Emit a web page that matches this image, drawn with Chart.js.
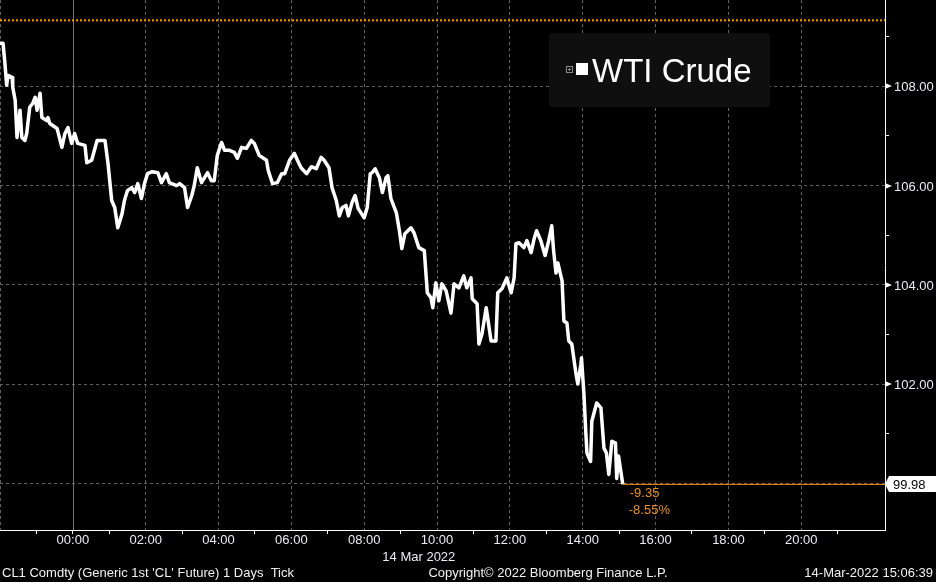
<!DOCTYPE html>
<html>
<head>
<meta charset="utf-8">
<script src="https://cdn.jsdelivr.net/npm/chart.js@4/dist/chart.umd.min.js"></script>
<style>
  html, body { margin: 0; padding: 0; background: #000; }
  #wrap { width: 936px; height: 582px; position: relative; }
</style>
</head>
<body>
<div id="wrap"><canvas id="crude"></canvas></div>
<script>
// CL1 ticks, 14-Mar-2022 session (22:xx / 23:xx belong to the evening before)
const times = [
  '22:00','22:05','22:08','22:11','22:13','22:20','22:21','22:25','22:28','22:33','22:36','22:41','22:44','22:49','22:54','22:58',
  '23:01','23:06','23:09','23:17','23:19','23:22','23:34','23:42','23:47','23:52','23:58',
  '00:03','00:08','00:20','00:23','00:31','00:40','00:44','00:53','00:58','01:04','01:09','01:14','01:21','01:25','01:30','01:37','01:42','01:47','01:53','01:58',
  '02:03','02:11','02:20','02:26','02:34','02:39','02:51','02:56','03:04','03:09','03:16','03:20','03:25','03:32','03:37','03:42','03:48','03:53','03:58',
  '04:05','04:10','04:18','04:26','04:31','04:38','04:46','04:54','04:59','05:07','05:19','05:22','05:29','05:37','05:44','05:49','05:57',
  '06:05','06:10','06:16','06:25','06:33','06:41','06:49','06:54','07:02','07:07','07:14','07:19','07:24','07:30','07:34','07:40','07:45','07:50',
  '08:00','08:05','08:10','08:13','08:18','08:25','08:30','08:36','08:39','08:44','08:53','08:58','09:02','09:07','09:17','09:22','09:30','09:39','09:44','09:50','09:53','09:58',
  '10:03','10:08','10:15','10:23','10:28','10:36','10:44','10:49','10:56','10:58','11:06','11:09','11:14','11:21','11:29','11:37','11:40','11:47','11:55',
  '12:02','12:07','12:10','12:15','12:23','12:28','12:35','12:40','12:44','12:51','12:58','13:04','13:09','13:12','13:16','13:19','13:26','13:29','13:34','13:37','13:42','13:49','13:52','13:57','13:58',
  '14:02','14:05','14:07','14:13','14:15','14:23','14:30','14:35','14:39','14:43','14:48','14:54','14:56','14:59','15:06'
];
const prices = [
  108.87,108.87,108.48,108.02,108.22,108.18,107.98,107.72,106.97,107.52,106.97,106.91,107.05,107.58,107.66,107.78,
  107.52,107.86,107.37,107.31,107.37,107.25,107.15,106.77,107.05,107.17,106.85,
  107.05,106.85,106.81,106.46,106.51,106.91,106.91,106.91,106.44,105.70,105.56,105.15,105.43,105.70,105.90,105.96,105.86,106.04,105.74,106.04,
  106.24,106.28,106.26,106.06,106.24,106.06,106.00,106.04,105.96,105.56,105.80,106.00,106.36,106.06,106.16,106.26,106.10,106.10,106.61,
  106.87,106.71,106.71,106.67,106.55,106.77,106.75,106.91,106.85,106.61,106.51,106.30,106.04,106.06,106.24,106.24,106.51,
  106.65,106.51,106.36,106.24,106.38,106.34,106.57,106.51,106.36,105.96,105.70,105.39,105.56,105.60,105.39,105.66,105.80,105.54,
  105.35,105.56,106.24,106.26,106.34,106.16,105.86,106.16,106.20,105.74,105.45,105.09,104.73,105.03,105.15,105.05,104.75,104.69,103.84,103.74,103.54,104.04,
  103.68,104.02,103.88,103.43,104.02,103.94,104.18,103.94,104.14,103.72,103.62,102.81,103.01,103.54,102.87,102.87,103.84,103.92,104.14,
  103.84,104.14,104.83,104.85,104.75,104.89,104.65,104.93,105.09,104.89,104.59,104.89,105.19,104.69,104.24,104.44,104.08,103.27,103.23,102.87,102.81,102.20,102.00,102.40,102.53,
  101.80,101.05,100.61,100.44,101.25,101.62,101.52,100.71,100.61,100.18,100.85,100.81,100.10,100.55,99.98
];
const prevClose = 109.33;
const lastPrice = 99.98;
const netChange = '-9.35';
const pctChange = '-8.55%';
const xTickHours = [0, 2, 4, 6, 8, 10, 12, 14, 16, 18, 20];
const yTickValues = [102, 104, 106, 108];

const FONT = '"Liberation Sans", Arial, sans-serif';
const ORANGE = '#ff9900';
const GRID = '#606060';

// hours relative to 00:00 on 14 Mar
function toHours(t) {
  const [h, m] = t.split(':').map(Number);
  const v = h + m / 60;
  return h >= 21 ? v - 24 : v;
}

const xMin = -2, xMax = 22.3;
const lastX = toHours(times[times.length - 1]);
const series = times.map((t, i) => ({ x: toHours(t), y: prices[i] }));

const overlay = {
  id: 'overlay',
  beforeDatasetsDraw(chart) {
    // solid day separator at midnight
    const { ctx, chartArea: a, scales: { x } } = chart;
    const px = Math.round(x.getPixelForValue(0)) + 0.5;
    ctx.save();
    ctx.strokeStyle = '#707070';
    ctx.lineWidth = 1;
    ctx.beginPath();
    ctx.moveTo(px, a.top);
    ctx.lineTo(px, a.bottom);
    ctx.stroke();
    ctx.restore();
  },
  afterDraw(chart) {
    const { ctx, chartArea: a, scales: { x, y } } = chart;
    ctx.save();
    ctx.textBaseline = 'middle';
    ctx.font = '13px ' + FONT;

    // right axis labels with little pointers
    yTickValues.forEach(v => {
      const py = Math.round(y.getPixelForValue(v));
      ctx.fillStyle = '#ffffff';
      ctx.beginPath();
      ctx.moveTo(a.right, py - 3);
      ctx.lineTo(a.right + 7, py);
      ctx.lineTo(a.right, py + 3);
      ctx.fill();
      ctx.fillStyle = '#ececf4';
      ctx.fillText(v.toFixed(2), a.right + 9, py + 1);
    });

    // last price tag
    const ly = Math.round(y.getPixelForValue(lastPrice));
    ctx.fillStyle = '#ffffff';
    ctx.beginPath();
    ctx.moveTo(a.right, ly);
    ctx.lineTo(a.right + 4, ly - 8);
    ctx.lineTo(chart.width, ly - 8);
    ctx.lineTo(chart.width, ly + 8);
    ctx.lineTo(a.right + 4, ly + 8);
    ctx.closePath();
    ctx.fill();
    ctx.fillStyle = '#000000';
    ctx.fillText(lastPrice.toFixed(2), a.right + 8, ly + 1);

    // change vs previous close
    const lx = x.getPixelForValue(lastX);
    ctx.fillStyle = '#e8922a';
    ctx.fillText(netChange, lx + 7, ly + 9);
    ctx.fillText(pctChange, lx + 6, ly + 26);

    // legend
    ctx.fillStyle = '#0f0f0f';
    ctx.beginPath();
    ctx.roundRect(549, 33, 221, 74, 4);
    ctx.fill();
    ctx.strokeStyle = '#8a8a8a';
    ctx.lineWidth = 1;
    ctx.strokeRect(566.5, 66.5, 6, 6);
    ctx.beginPath();
    ctx.moveTo(568, 69.5); ctx.lineTo(571, 69.5);
    ctx.moveTo(569.5, 68); ctx.lineTo(569.5, 71);
    ctx.stroke();
    ctx.fillStyle = '#ffffff';
    ctx.fillRect(576, 63, 12, 12);
    ctx.font = '33px ' + FONT;
    ctx.textBaseline = 'alphabetic';
    ctx.fillText('WTI Crude', 592, 82);

    // date under the axis and footer
    ctx.font = '13px ' + FONT;
    ctx.textBaseline = 'middle';
    ctx.fillStyle = '#ececf4';
    ctx.textAlign = 'center';
    ctx.fillText('14 Mar 2022', x.getPixelForValue(9.5), 557);
    ctx.fillStyle = '#f2f2f2';
    ctx.fillText('Copyright\u00a9 2022 Bloomberg Finance L.P.', 548, 573);
    ctx.textAlign = 'left';
    ctx.fillText("CL1 Comdty (Generic 1st 'CL' Future) 1 Days  Tick", 2, 573);
    ctx.textAlign = 'right';
    ctx.fillText('14-Mar-2022 15:06:39', 933, 573);
    ctx.restore();
  }
};

const crude = new Chart(document.getElementById('crude').getContext('2d'), {
  type: 'line',
  data: {
    datasets: [
      {
        label: 'Prev close',
        data: [{ x: xMin, y: prevClose }, { x: xMax, y: prevClose }],
        borderColor: ORANGE,
        borderWidth: 2,
        borderDash: [2, 2],
        pointRadius: 0
      },
      {
        label: 'Last',
        data: [{ x: lastX, y: lastPrice }, { x: xMax, y: lastPrice }],
        borderColor: ORANGE,
        borderWidth: 1,
        pointRadius: 0
      },
      {
        label: 'WTI Crude',
        data: series,
        borderColor: '#ffffff',
        borderWidth: 3.5,
        borderJoinStyle: 'round',
        pointRadius: 0,
        tension: 0
      }
    ]
  },
  options: {
    responsive: true,
    maintainAspectRatio: false,
    animation: false,
    layout: { padding: 0 },
    plugins: { legend: { display: false }, tooltip: { enabled: false } },
    scales: {
      x: {
        type: 'linear',
        min: xMin,
        max: xMax,
        afterFit(s) { s.height = 52; },
        ticks: {
          stepSize: 1,
          maxTicksLimit: 100,
          includeBounds: false,
          autoSkip: false,
          maxRotation: 0,
          padding: -1,
          color: '#ececf4',
          font: { family: FONT, size: 13 },
          callback: v => xTickHours.includes(v) ? String(v).padStart(2, '0') + ':00' : ''
        },
        grid: {
          color: c => (c.tick && c.tick.value % 2 === 0 && c.tick.value !== 0 && c.tick.value < 22) ? GRID : 'transparent',
          tickColor: c => (c.tick && (Math.abs(c.tick.value % 2) === 1 || c.tick.value === 0)) ? '#ffffff' : 'transparent',
          tickLength: 4,
          tickBorderDash: []
        },
        border: { color: '#ffffff', width: 1, dash: [3, 3] }
      },
      y: {
        position: 'right',
        min: 99.06,
        max: 109.74,
        afterFit(s) { s.width = 51; },
        ticks: { display: false, stepSize: 1, maxTicksLimit: 100, includeBounds: false },
        grid: {
          color: c => (c.tick && c.tick.value % 2 === 0) ? GRID : 'transparent',
          tickColor: c => (c.tick && Math.abs(c.tick.value % 2) === 1) ? '#ffffff' : 'transparent',
          tickLength: 4,
          tickBorderDash: []
        },
        border: { color: '#ffffff', width: 1, dash: [3, 3] }
      }
    }
  },
  plugins: [overlay]
});
</script>
</body>
</html>
